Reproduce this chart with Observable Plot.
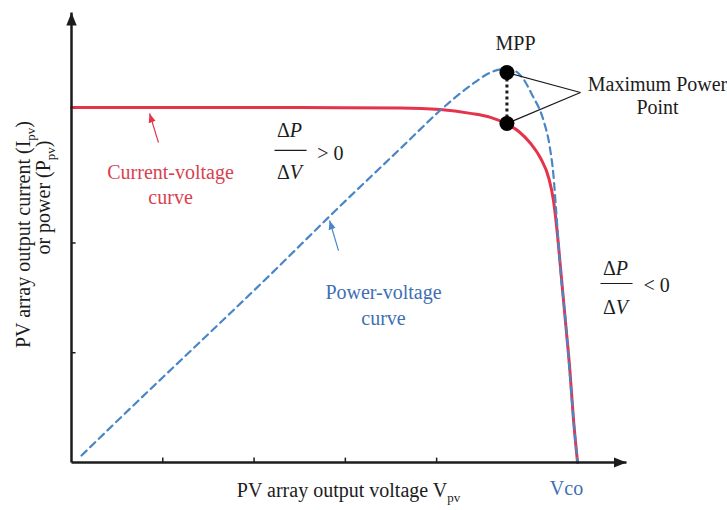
<!DOCTYPE html>
<html><head><meta charset="utf-8">
<script src="https://cdn.jsdelivr.net/npm/d3@7"></script>
<script src="https://cdn.jsdelivr.net/npm/@observablehq/plot@0.6"></script>
<style>body{margin:0;background:#fff}</style>
</head><body><div id="chart"></div>
<script>
// Current-voltage curve (I-V)
const voltageIV = [0, 2.5, 3.6, 4.04, 4.37, 4.59, 4.755, 4.9, 5.03, 5.14, 5.23, 5.28, 5.31, 5.36, 5.41, 5.46, 5.5, 5.544];
const currentIV = [3.234, 3.234, 3.23, 3.216, 3.181, 3.144, 3.089, 3.016, 2.906, 2.77, 2.587, 2.387, 2.187, 1.749, 1.294, 0.838, 0.383, 0];
// Power-voltage curve (P-V)
const voltagePV = [0.11, 0.723, 1.413, 2.18, 2.87, 3.604, 4.075, 4.371, 4.59, 4.777, 4.919, 5.05, 5.171, 5.237, 5.28, 5.313, 5.357, 5.412, 5.456, 5.5, 5.544];
const powerPV   = [0.064, 0.556, 1.102, 1.713, 2.278, 2.861, 3.234, 3.435, 3.553, 3.59, 3.527, 3.344, 3.116, 2.888, 2.615, 2.25, 1.749, 1.294, 0.838, 0.383, 0];
// Maximum power point (on P-V and I-V curves)
const mppVoltage = [4.77, 4.77];
const mppValue = [3.553, 3.089];
const xTicks = [1, 2, 3, 4];
const yTicks = [1, 2];
const xMax = 6.08, yMax = 4.1;

const RED = "#e4344c", BLUE = "#4a86c6", DARK = "#1c1c1c";
const RED_TXT = "#d8424f", BLUE_TXT = "#3e6fb4";
const serif = "Liberation Serif";

const texts = [
  {x: 4.864, y: 3.817, t: "MPP", c: DARK},
  {x: 6.42, y: 3.444, t: "Maximum Power", c: DARK},
  {x: 6.42, y: 3.234, t: "Point", c: DARK},
  {x: 1.085, y: 2.642, t: "Current-voltage", c: RED_TXT},
  {x: 1.085, y: 2.414, t: "curve", c: RED_TXT},
  {x: 3.418, y: 1.549, t: "Power-voltage", c: BLUE_TXT},
  {x: 3.418, y: 1.312, t: "curve", c: BLUE_TXT},
  {x: 2.388, y: 3.025, t: "Δ<i>P</i>", c: DARK},
  {x: 2.388, y: 2.642, t: "Δ<i>V</i>", c: DARK},
  {x: 2.837, y: 2.815, t: "> 0", c: DARK},
  {x: 5.96, y: 1.767, t: "Δ<i>P</i>", c: DARK},
  {x: 5.96, y: 1.412, t: "Δ<i>V</i>", c: DARK},
  {x: 6.409, y: 1.613, t: "< 0", c: DARK},
  {x: 3.035, y: -0.255, t: "PV array output voltage V<sub>pv</sub>", c: DARK},
  {x: 5.423, y: -0.237, t: "Vco", c: BLUE_TXT}
];
const yLabels = [
  {x: -0.526, y: 2.077, t: "PV array output current (I<sub>pv</sub>)"},
  {x: -0.307, y: 2.414, t: "or power (P<sub>pv</sub>)"}
];
const fractionBars = [
  {x1: 2.224, x2: 2.575, y: 2.843},
  {x1: 5.795, x2: 6.146, y: 1.631}
];
const pointers = [
  {x1: 0.953, y1: 2.915, x2: 0.855, y2: 3.18, c: RED},
  {x1: 2.925, y1: 1.931, x2: 2.827, y2: 2.205, c: BLUE}
];

const plot = Plot.plot({
  width: 727, height: 510,
  marginLeft: 71, marginRight: 101, marginTop: 12, marginBottom: 48,
  x: {domain: [0, xMax], axis: null},
  y: {domain: [0, yMax], axis: null},
  style: {background: "white", overflow: "visible"},
  marks: [
    // ticks
    Plot.ruleX(xTicks, {x: d => d, y1: 0, y2: 0.04, stroke: DARK, strokeWidth: 1.5}),
    Plot.ruleY(yTicks, {y: d => d, x1: 0, x2: 0.05, stroke: DARK, strokeWidth: 1.5}),
    // curves
    Plot.line(currentIV, {x: voltageIV, y: currentIV, stroke: RED, strokeWidth: 3, curve: "monotone-x"}),
    Plot.line(powerPV, {x: voltagePV, y: powerPV, stroke: BLUE, strokeWidth: 2.2, strokeDasharray: "7,5", curve: "monotone-x"}),
    // axes with arrows
    Plot.link([0], {x1: 0, y1: 0, x2: xMax, y2: 0, stroke: DARK, strokeWidth: 2.5, markerEnd: "arrow"}),
    Plot.link([0], {x1: 0, y1: 0, x2: 0, y2: yMax, stroke: DARK, strokeWidth: 2.5, markerEnd: "arrow"}),
    // MPP connector and leaders
    Plot.link([0], {x1: mppVoltage[0], y1: mppValue[0], x2: mppVoltage[1], y2: mppValue[1], stroke: DARK, strokeWidth: 3, strokeDasharray: "3,3"}),
    Plot.link(mppValue, {x1: mppVoltage, y1: mppValue, x2: 5.576, y2: 3.371, stroke: DARK, strokeWidth: 1.2}),
    Plot.dot(mppValue, {x: mppVoltage, y: mppValue, r: 7.5, fill: "black"}),
    // pointer arrows
    Plot.link(pointers, {x1: "x1", y1: "y1", x2: "x2", y2: "y2", stroke: "c", strokeWidth: 1.2, markerEnd: "arrow"}),
    // fraction bars
    Plot.link(fractionBars, {x1: "x1", x2: "x2", y1: "y", y2: "y", stroke: DARK, strokeWidth: 1.2}),
    // texts
    Plot.text(texts, {x: "x", y: "y", text: "t", fill: "c", fontFamily: serif, fontSize: 20, textAnchor: "middle"}),
    Plot.text(yLabels, {x: "x", y: "y", text: "t", fill: DARK, fontFamily: serif, fontSize: 20, rotate: -90, textAnchor: "middle"})
  ]
});

// filled arrowheads
plot.querySelectorAll("marker").forEach(m => {
  const color = m.getAttribute("stroke") || DARK;
  const size = (color === RED || color === BLUE) ? 9 : 13;
  m.setAttribute("viewBox", "-10 -5 10 10");
  m.setAttribute("markerUnits", "userSpaceOnUse");
  m.setAttribute("markerWidth", size);
  m.setAttribute("markerHeight", size);
  m.setAttribute("fill", color);
  m.setAttribute("stroke", "none");
  const p = m.querySelector("path");
  if (p) p.setAttribute("d", "M-10,-4L0,0L-10,4Z");
});

// rich text (subscripts, italics)
const NS = "http://www.w3.org/2000/svg";
plot.querySelectorAll("text").forEach(t => {
  const s = t.textContent;
  if (!/<(sub|i)>/.test(s)) return;
  const parts = s.split(/(<sub>.*?<\/sub>|<i>.*?<\/i>)/).filter(p => p);
  t.textContent = "";
  let shifted = false;
  for (const p of parts) {
    const ts = document.createElementNS(NS, "tspan");
    let m;
    if ((m = p.match(/^<sub>(.*)<\/sub>$/))) {
      ts.textContent = m[1];
      ts.setAttribute("font-size", "13");
      ts.setAttribute("dy", "5");
      shifted = true;
    } else {
      if ((m = p.match(/^<i>(.*)<\/i>$/))) {
        ts.textContent = m[1];
        ts.setAttribute("font-style", "italic");
      } else ts.textContent = p;
      if (shifted) { ts.setAttribute("dy", "-5"); shifted = false; }
    }
    t.appendChild(ts);
  }
});

document.getElementById("chart").appendChild(plot);
</script>
</body></html>
